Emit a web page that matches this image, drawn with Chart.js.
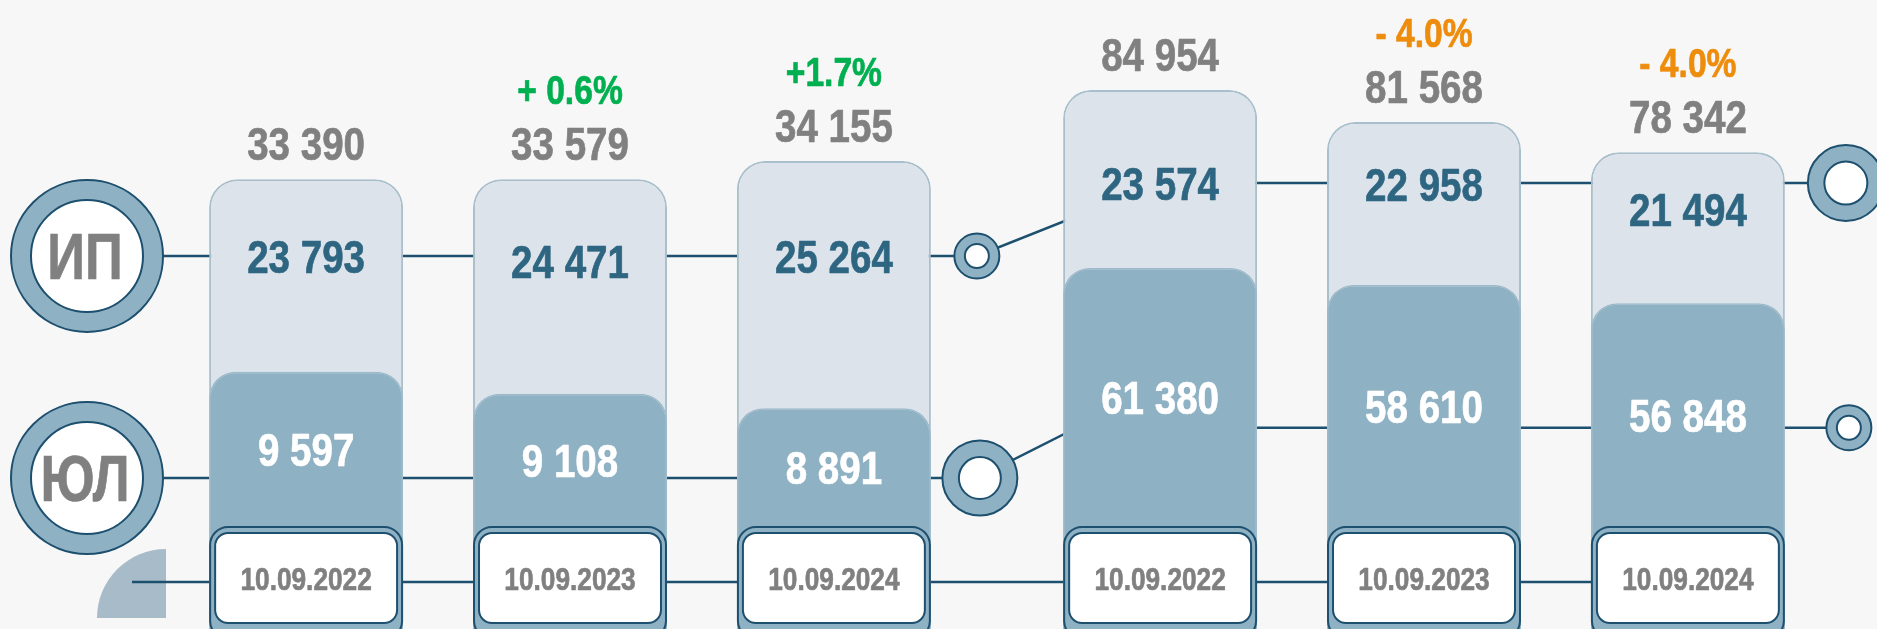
<!DOCTYPE html>
<html><head><meta charset="utf-8">
<script src="https://cdn.jsdelivr.net/npm/chart.js@4.4.1/dist/chart.umd.min.js"></script>
<style>html,body{margin:0;padding:0;background:#f7f7f7;}#wrap{width:1877px;height:629px;}</style>
</head><body><div id="wrap"><canvas id="c" width="1877" height="629"></canvas></div>
<script>
// ---- data ----
const periods = ['10.09.2022', '10.09.2023', '10.09.2024', '10.09.2022', '10.09.2023', '10.09.2024'];
const panels = ['A', 'B']; // two unlabeled panels, three dates each
const seriesNames = ['ИП', 'ЮЛ'];
const totalValues = [33390, 33579, 34155, 84954, 81568, 78342];
const ipValues = [23793, 24471, 25264, 23574, 22958, 21494];
const ulValues = [9597, 9108, 8891, 61380, 58610, 56848];
const changeLabels = ['', '+ 0.6%', '+1.7%', '', '- 4.0%', '- 4.0%'];
// bar heights as drawn in the reference (its own 0-100 display scale, not proportional to the values)
const totalBarLevel = [71.5, 71.5, 74.4, 85.7, 80.6, 75.8];
const ulBarLevel = [40.9, 37.4, 35.1, 57.4, 54.7, 51.8];
// connector line levels per panel, same display scale
const ipLinkLevel = [59.3, 70.9];
const ulLinkLevel = [24.0, 32.0];

// ---- style ----
const DARK = '#1d4f6e', RING = '#8fb1c4', GRAY = '#808080', IPC = '#2e6682';
const SQ = 0.82;
const fmt = n => String(n).replace(/\B(?=(\d{3})+(?!\d))/g, ' ');

function txt(ctx, s, x, cy, size, color) {
  ctx.save();
  ctx.font = 'bold ' + size + 'px "Liberation Sans", Arial, sans-serif';
  ctx.fillStyle = color; ctx.strokeStyle = color; ctx.lineWidth = 0.7; ctx.lineJoin = 'round';
  ctx.textAlign = 'center'; ctx.textBaseline = 'alphabetic';
  ctx.translate(x, cy + 0.358 * size); ctx.scale(SQ, 1);
  ctx.fillText(s, 0, 0); ctx.strokeText(s, 0, 0); ctx.restore();
}
function ring(ctx, x, y, ro, ri) {
  ctx.save(); ctx.lineWidth = 2; ctx.strokeStyle = DARK;
  ctx.beginPath(); ctx.arc(x, y, ro, 0, Math.PI * 2); ctx.fillStyle = RING; ctx.fill(); ctx.stroke();
  ctx.beginPath(); ctx.arc(x, y, ri, 0, Math.PI * 2); ctx.fillStyle = '#ffffff'; ctx.fill(); ctx.stroke();
  ctx.restore();
}
function bars(chart) {
  const out = [];
  for (let k = 0; k < periods.length; k++) {
    const g = Math.floor(k / 3), j = k % 3;
    const t = chart.getDatasetMeta(3 + j).data[g];
    const u = chart.getDatasetMeta(j).data[g];
    out.push({x: t.x, w: t.width, top: t.y, ulTop: u.y, left: t.x - t.width / 2, right: t.x + t.width / 2, g});
  }
  return out;
}
function geo(chart) {
  const a = chart.chartArea, y = chart.scales.y, B = bars(chart);
  return {
    a, y, B,
    legendX: a.left - 56,
    dateY: a.bottom - 47,
    boxTop: a.bottom - 102,
    sx: B[2].right + 46,
    rx: B[5].right + 61,
    ip: ipLinkLevel.map(v => y.getPixelForValue(v)),
    ul: ulLinkLevel.map(v => y.getPixelForValue(v))
  };
}

const deco = {
  id: 'deco',
  beforeDraw(chart) {
    const ctx = chart.ctx;
    ctx.save(); ctx.fillStyle = '#f7f7f7'; ctx.fillRect(0, 0, chart.width, chart.height); ctx.restore();
  },
  beforeDatasetsDraw(chart) {
    const ctx = chart.ctx, G = geo(chart), a = G.a, B = G.B;
    ctx.save();
    // quarter disc
    const qx = a.left + 23, qy = a.bottom - 11;
    ctx.fillStyle = '#a8bbc8';
    ctx.beginPath(); ctx.moveTo(qx, qy); ctx.arc(qx, qy, 69, Math.PI, Math.PI * 1.5); ctx.closePath(); ctx.fill();
    ctx.strokeStyle = DARK; ctx.lineWidth = 2.5;
    // date line
    ctx.beginPath(); ctx.moveTo(a.left - 11, G.dateY); ctx.lineTo(B[5].x, G.dateY); ctx.stroke();
    // connectors
    const conn = (L, jf) => {
      const jx = B[3].left + jf * B[3].w;
      ctx.beginPath(); ctx.moveTo(G.legendX, L[0]); ctx.lineTo(G.sx, L[0]);
      ctx.lineTo(jx, L[1]); ctx.lineTo(G.rx, L[1]); ctx.stroke();
    };
    conn(G.ip, 0.5);
    conn(G.ul, 0.07);
    ctx.restore();
  },
  afterDatasetsDraw(chart) {
    const ctx = chart.ctx, G = geo(chart), B = G.B;
    ctx.save();
    B.forEach((b, k) => {
      // date box
      ctx.lineWidth = 2; ctx.strokeStyle = DARK;
      ctx.beginPath(); ctx.roundRect(b.left + 1, G.boxTop, b.w - 2, 112, 18); ctx.fillStyle = RING; ctx.fill(); ctx.stroke();
      ctx.beginPath(); ctx.roundRect(b.left + 6, G.boxTop + 6, b.w - 12, 90, 13); ctx.fillStyle = '#ffffff'; ctx.fill(); ctx.stroke();
      txt(ctx, periods[k], b.x, G.boxTop + 52, 32, GRAY);
      // totals & change
      const tc = b.top - 36;
      txt(ctx, fmt(totalValues[k]), b.x, tc, 47, GRAY);
      if (changeLabels[k]) txt(ctx, changeLabels[k], b.x, tc - 54, 41, changeLabels[k].trim().startsWith('+') ? '#00b050' : '#ee8c0c');
      // series values
      const ipY = Math.max(G.ip[b.g], b.top + 0.38 * (b.ulTop - b.top));
      txt(ctx, fmt(ipValues[k]), b.x, ipY, 47, IPC);
      txt(ctx, fmt(ulValues[k]), b.x, (b.ulTop + G.boxTop) / 2, 47, '#ffffff');
    });
    // legend rings
    ring(ctx, G.legendX, G.ip[0], 76, 56); txt(ctx, seriesNames[0], G.legendX - 2, G.ip[0], 64, GRAY);
    ring(ctx, G.legendX, G.ul[0], 76, 56); txt(ctx, seriesNames[1], G.legendX - 2, G.ul[0], 64, GRAY);
    // intermediate and end rings
    ring(ctx, G.sx, G.ip[0], 22.5, 12);
    ring(ctx, G.sx + 3, G.ul[0], 37.5, 21);
    ring(ctx, G.rx, G.ip[1], 38, 21.5);
    ring(ctx, G.rx + 3, G.ul[1], 22.5, 12);
    ctx.restore();
  }
};

const datasets = [];
for (let j = 0; j < 3; j++) {
  datasets.push({
    label: seriesNames[1] + ' ' + periods[j], stack: 's' + j,
    data: panels.map((p, g) => ulBarLevel[g * 3 + j]),
    backgroundColor: RING, borderColor: '#9dbacb', borderWidth: 1.5, borderSkipped: 'bottom',
    borderRadius: {topLeft: 26, topRight: 26, bottomLeft: 0, bottomRight: 0}
  });
}
for (let j = 0; j < 3; j++) {
  datasets.push({
    label: 'Всего ' + periods[j], stack: 's' + j,
    data: panels.map((p, g) => totalBarLevel[g * 3 + j]),
    backgroundColor: '#dce3ea', borderColor: '#a9bfcc', borderWidth: 2, borderSkipped: 'bottom',
    borderRadius: {topLeft: 28, topRight: 28, bottomLeft: 0, bottomRight: 0}
  });
}

new Chart(document.getElementById('c'), {
  type: 'bar',
  data: {labels: panels, datasets},
  options: {
    responsive: false, devicePixelRatio: 1, animation: false,
    layout: {padding: {left: 143, right: 26, top: 0, bottom: 0}},
    plugins: {legend: {display: false}, tooltip: {enabled: false}},
    datasets: {bar: {categoryPercentage: 0.927, barPercentage: 0.735}},
    scales: {
      x: {type: 'category', stacked: true, display: false},
      y: {stacked: false, display: false, min: 0, max: 100}
    }
  },
  plugins: [deco]
});
</script></body></html>
